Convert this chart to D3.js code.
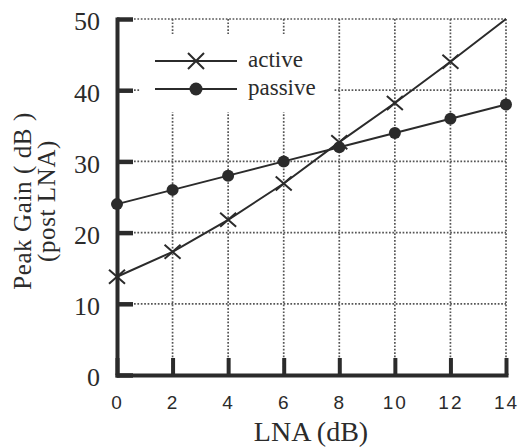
<!DOCTYPE html>
<html>
<head>
<meta charset="utf-8">
<script src="https://cdn.jsdelivr.net/npm/d3@7"></script>
<style>
  html, body { margin: 0; padding: 0; background: #fff; }
  svg { display: block; }
</style>
</head>
<body>
<svg id="chart" width="527" height="448"></svg>
<script>
// ---- data ----
const lnaValues = [0, 2, 4, 6, 8, 10, 12, 14];
const activeGain = [13.8, 17.3, 21.8, 26.9, 32.7, 38.2, 44.0, 50.0];
const passiveGain = [24.0, 26.0, 28.0, 30.0, 32.0, 34.0, 36.0, 38.0];
const xTicks = [0, 2, 4, 6, 8, 10, 12, 14];
const yTicks = [0, 10, 20, 30, 40, 50];
const seriesNames = ["active", "passive"];
const xTitle = "LNA (dB)";
const yTitle = ["Peak Gain ( dB )", "(post LNA)"];

// ---- layout ----
const svg = d3.select("#chart");
const ink = "#2b2b2b";
const x = d3.scaleLinear().domain([0, 14]).range([117, 506]);
const y = d3.scaleLinear().domain([0, 50]).range([375, 19]);

// grid
const grid = svg.append("g").attr("stroke", "#555").attr("stroke-width", 1.7)
  .attr("stroke-dasharray", "1.7,1.7").attr("fill", "none");
grid.selectAll("line.h").data(yTicks.filter(d => d > 0)).join("line")
  .attr("x1", x(0)).attr("x2", x(14)).attr("y1", d => y(d)).attr("y2", d => y(d));
grid.selectAll("line.v").data(xTicks.filter(d => d > 0)).join("line")
  .attr("x1", d => x(d)).attr("x2", d => x(d)).attr("y1", y(50)).attr("y2", y(0));

// legend backdrop (covers grid)
svg.append("rect").attr("x", 140).attr("y", 34).attr("width", 194).attr("height", 78).attr("fill", "#fff");

// axes
const xAxis = d3.axisBottom(x).tickValues(xTicks).tickSizeInner(-17).tickSizeOuter(0).tickPadding(21);
const yAxis = d3.axisLeft(y).tickValues(yTicks).tickSizeInner(-16).tickSizeOuter(0).tickPadding(17);

const gx = svg.append("g").attr("transform", `translate(0,${y(0)})`).call(xAxis);
gx.select(".domain").attr("stroke", ink).attr("stroke-width", 4).attr("stroke-linecap", "square");
gx.selectAll(".tick line").attr("stroke", ink).attr("stroke-width", 4);
gx.selectAll(".tick text").attr("fill", ink)
  .style("font-family", "'Liberation Sans', Arial, sans-serif").style("font-size", "19px")
  .style("letter-spacing", "2px");

const gy = svg.append("g").attr("transform", `translate(${x(0)},0)`).call(yAxis);
gy.select(".domain").attr("stroke", ink).attr("stroke-width", 4).attr("stroke-linecap", "square");
gy.selectAll(".tick line").attr("stroke", ink).attr("stroke-width", 4.5);
gy.selectAll(".tick text").attr("fill", ink).attr("dy", "0.42em")
  .style("font-family", "'Liberation Serif', 'Times New Roman', serif").style("font-size", "26px");

// series
const line = d3.line().x(d => x(d[0])).y(d => y(d[1]));
const activePts = lnaValues.map((v, i) => [v, activeGain[i]]);
const passivePts = lnaValues.map((v, i) => [v, passiveGain[i]]);

svg.append("path").datum(activePts).attr("d", line).attr("fill", "none").attr("stroke", ink).attr("stroke-width", 2);
svg.append("path").datum(passivePts).attr("d", line).attr("fill", "none").attr("stroke", ink).attr("stroke-width", 2);

function cross(g, cx, cy, hw, hh) {
  g.append("path")
    .attr("d", `M${cx - hw},${cy - hh}L${cx + hw},${cy + hh}M${cx - hw},${cy + hh}L${cx + hw},${cy - hh}`)
    .attr("stroke", ink).attr("stroke-width", 2).attr("fill", "none");
}
const markers = svg.append("g");
activePts.filter(d => d[1] < 50).forEach(d => cross(markers, x(d[0]), y(d[1]), 8, 7));
markers.selectAll("circle").data(passivePts).join("circle")
  .attr("cx", d => x(d[0])).attr("cy", d => y(d[1])).attr("r", 6).attr("fill", ink);

// legend
const leg = svg.append("g");
const legY = [61, 89];
seriesNames.forEach((name, i) => {
  leg.append("line").attr("x1", 155).attr("x2", 237).attr("y1", legY[i]).attr("y2", legY[i])
    .attr("stroke", ink).attr("stroke-width", 2);
  if (i === 0) cross(leg, 196, legY[i], 8, 8);
  else leg.append("circle").attr("cx", 196).attr("cy", legY[i]).attr("r", 6.5).attr("fill", ink);
  leg.append("text").attr("x", 248).attr("y", legY[i] + 6).text(name).attr("fill", ink)
    .style("font-family", "'Liberation Serif', 'Times New Roman', serif").style("font-size", "23px");
});

// titles
svg.append("text").attr("x", 311).attr("y", 441).attr("text-anchor", "middle").text(xTitle)
  .attr("fill", ink).style("font-family", "'Liberation Serif', 'Times New Roman', serif").style("font-size", "28px");

const yt = svg.append("text").attr("transform", "translate(0,201) rotate(-90)").attr("text-anchor", "middle")
  .attr("fill", ink).style("font-family", "'Liberation Serif', 'Times New Roman', serif").style("font-size", "25px");
yt.append("tspan").attr("x", 0).attr("y", 31).style("letter-spacing", "0.6px").text(yTitle[0]);
yt.append("tspan").attr("x", 0).attr("y", 55).style("letter-spacing", "0.6px").text(yTitle[1]);
</script>
</body>
</html>
